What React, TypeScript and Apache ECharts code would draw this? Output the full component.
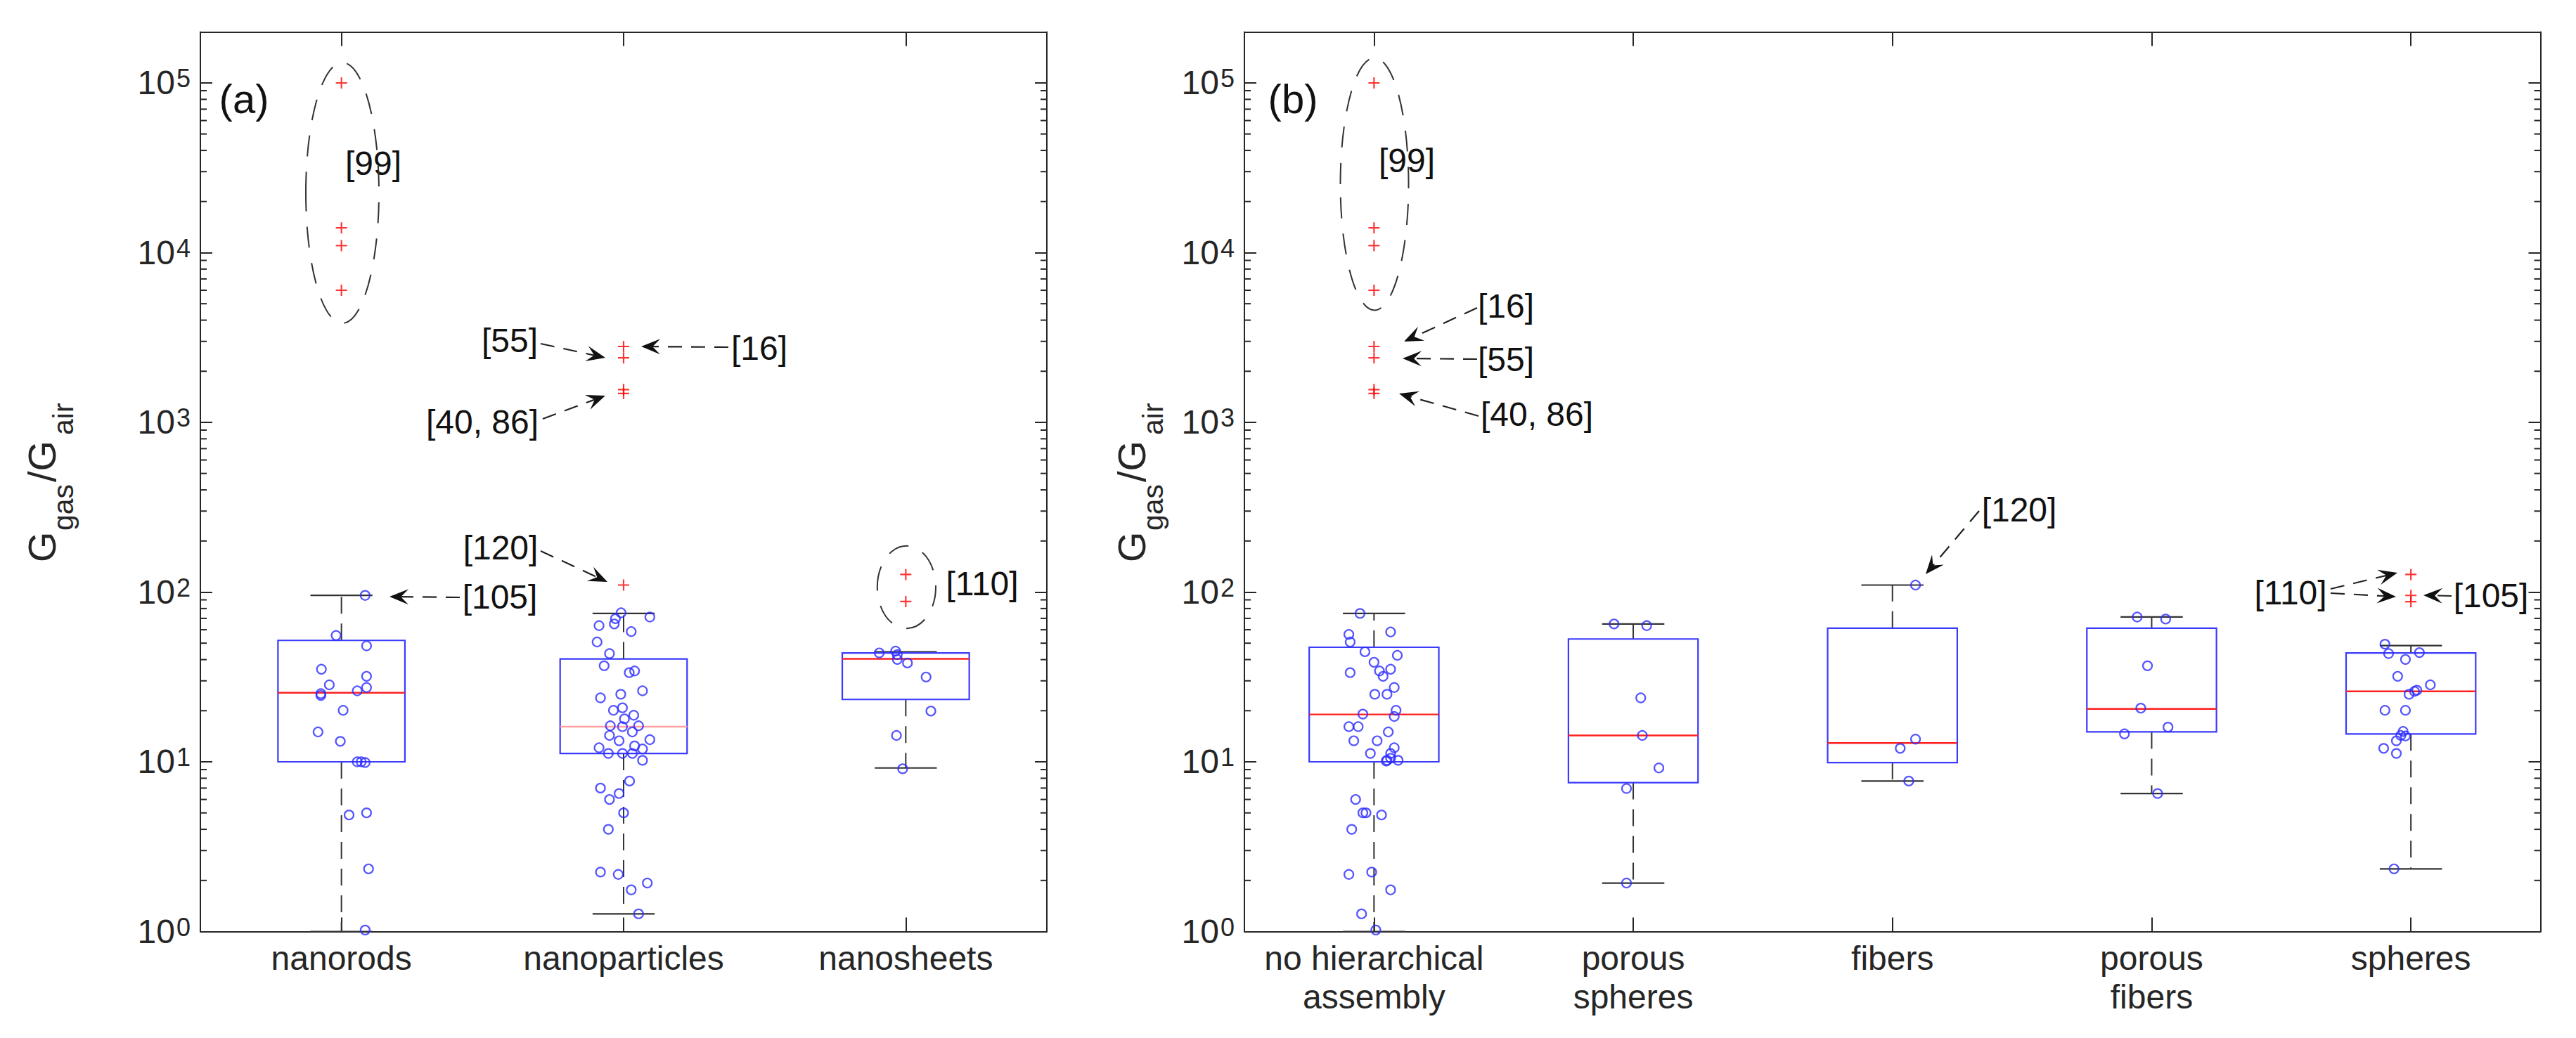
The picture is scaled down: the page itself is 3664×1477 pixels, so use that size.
import React, { useEffect, useRef } from 'react';
import * as echarts from 'echarts';

const FONT = "'Liberation Sans', Arial, Helvetica, sans-serif";

// ---------- categories ----------
const catsA = ['nanorods', 'nanoparticles', 'nanosheets'];
const catsB = ['no hierarchical\nassembly', 'porous\nspheres', 'fibers', 'porous\nfibers', 'spheres'];

// ---------- box statistics: [lower whisker, q1, median, q3, upper whisker] ----------
const boxA = [
  [1.0, 10, 25.5, 51.9, 95.6],
  [1.27, 11.2, 16.1, 40.4, 74.8],
  [9.2, 23.3, 40.4, 43.8, 44.4],
];
const boxB = [
  [1.0, 10, 19.0, 47.3, 74.8],
  [1.93, 7.54, 14.3, 52.9, 64.9],
  [7.7, 9.9, 12.9, 61.3, 110],
  [6.5, 15.0, 20.5, 61.3, 71.3],
  [2.34, 14.6, 26.0, 43.8, 48.4],
];

// ---------- jittered observations: [jitter (category units), value] ----------
const ptsNanorods = [
  [0.084, 95.6], [-0.019, 55.5], [0.089, 48.2], [-0.071, 35.1], [0.089, 31.9], [-0.043, 28.4],
  [0.089, 27.4], [0.056, 26.2], [-0.073, 25.2], [-0.073, 24.6], [0.006, 20.1], [-0.083, 15.0],
  [-0.004, 13.2], [0.056, 10.0], [0.07, 10.0], [0.084, 9.9], [0.027, 4.86], [0.089, 5.0],
  [0.096, 2.34], [0.084, 1.02],
];
const ptsNanoparticles = [
  [-0.009, 75.5], [-0.029, 69.7], [-0.033, 64.9], [-0.087, 63.4], [0.093, 71.3], [0.027, 58.5],
  [-0.094, 50.8], [-0.05, 43.4], [-0.069, 36.8], [0.02, 33.5], [0.039, 34.3], [0.067, 26.2],
  [-0.082, 23.8], [-0.01, 25.0], [-0.004, 20.8], [-0.036, 20.1], [0.036, 18.8], [0.003, 17.9],
  [-0.047, 16.3], [-0.004, 16.1], [0.053, 16.3], [0.031, 15.0], [-0.05, 14.3], [-0.016, 13.3],
  [0.093, 13.5], [0.039, 12.4], [-0.087, 12.1], [0.067, 11.9], [-0.054, 11.2], [-0.004, 11.2],
  [0.031, 11.2], [0.067, 10.2], [0.021, 7.7], [-0.082, 7.0], [-0.05, 6.0], [-0.016, 6.5],
  [0.0, 5.0], [-0.054, 4.0], [-0.082, 2.24], [-0.019, 2.17], [0.027, 1.76], [0.084, 1.93],
  [0.053, 1.27],
];
const ptsNanosheets = [
  [-0.094, 43.8], [-0.036, 44.9], [-0.03, 42.8], [-0.03, 40.1], [0.006, 38.2], [0.072, 31.6],
  [0.089, 19.9], [-0.033, 14.3], [-0.011, 9.1],
];
const ptsNoHierarchy = [
  [-0.054, 74.8], [-0.097, 56.3], [0.064, 58.2], [-0.092, 50.8], [-0.035, 44.5], [0.09, 42.4],
  [0.0, 38.6], [-0.092, 33.5], [0.021, 34.3], [0.064, 35.1], [0.035, 31.9], [0.078, 27.4],
  [0.003, 25.0], [0.05, 25.0], [0.085, 20.1], [-0.043, 19.1], [0.078, 18.5], [-0.097, 16.1],
  [-0.061, 16.1], [0.055, 15.0], [-0.078, 13.3], [0.012, 13.3], [0.078, 12.1], [-0.014, 11.2],
  [0.064, 11.2], [0.05, 10.2], [0.064, 10.5], [0.093, 10.2], [0.047, 10.1], [-0.071, 6.0],
  [-0.043, 5.0], [-0.031, 5.0], [0.029, 4.86], [-0.086, 4.0], [-0.097, 2.17], [-0.009, 2.24],
  [0.064, 1.76], [-0.048, 1.27], [0.007, 1.02],
];
const ptsPorousSpheres = [
  [-0.074, 64.9], [0.052, 63.4], [0.029, 23.8], [0.035, 14.3], [0.099, 9.2], [-0.026, 6.96], [-0.026, 1.93],
];
const ptsFibers = [[0.089, 110], [0.089, 13.6], [0.03, 12.0], [0.063, 7.7]];
const ptsPorousFibers = [
  [-0.056, 71.3], [0.054, 69.3], [-0.016, 36.8], [-0.042, 20.7], [0.063, 16.0], [-0.105, 14.6], [0.023, 6.5],
];
const ptsSpheres = [
  [-0.1, 49.3], [-0.086, 43.4], [-0.021, 40.1], [0.033, 44.0], [-0.051, 31.9], [0.075, 28.4],
  [0.023, 26.4], [0.014, 26.0], [-0.007, 25.0], [-0.1, 20.1], [-0.021, 20.1], [-0.03, 15.1],
  [-0.039, 14.3], [-0.021, 14.2], [-0.056, 13.3], [-0.105, 12.0], [-0.056, 11.2], [-0.065, 2.34],
];

// ---------- outliers: [category (1-based), value] ----------
const outliersA = [
  [1, 100000], [1, 14000], [1, 11000], [1, 6000],
  [2, 2800], [2, 2400], [2, 1560], [2, 1480], [2, 110],
  [3, 127], [3, 88],
];
const outliersB = [
  [1, 100000], [1, 14000], [1, 11000], [1, 6000], [1, 2800], [1, 2400], [1, 1560], [1, 1480],
  [5, 127], [5, 95.6], [5, 87.8],
];

// ---------- axis ----------
const Y_MIN = 1;
const Y_MAX = 199526; // 10^5.3
const minorTickValues: number[] = [];
for (let k = 0; k <= 4; k++) for (let m = 2; m <= 9; m++) minorTickValues.push(m * Math.pow(10, k));

// ---------- annotation layout (pixels) ----------
const labelsA = [
  { text: '(a)', x: 347, y: 140, size: 58 },
  { text: '[99]', x: 531, y: 232 },
  { text: '[55]', x: 725, y: 484 },
  { text: '[40, 86]', x: 686, y: 600 },
  { text: '[16]', x: 1080, y: 495 },
  { text: '[120]', x: 712, y: 779 },
  { text: '[105]', x: 711, y: 849 },
  { text: '[110]', x: 1397, y: 830 },
];
const arrowsA = [
  [769, 489, 861, 509],
  [772, 596, 861, 563],
  [1036, 494, 912, 493],
  [769, 784, 864, 828],
  [654, 850, 554, 849],
];
const ellipsesA = [
  [487, 274.5, 52, 185.5],
  [1289.4, 835.5, 41.6, 58.7],
];
const labelsB = [
  { text: '(b)', x: 1839, y: 140, size: 58 },
  { text: '[99]', x: 2001, y: 228 },
  { text: '[16]', x: 2142, y: 435 },
  { text: '[55]', x: 2142, y: 511 },
  { text: '[40, 86]', x: 2186, y: 589 },
  { text: '[120]', x: 2872, y: 725 },
  { text: '[110]', x: 3258, y: 843 },
  { text: '[105]', x: 3543, y: 847 },
];
const arrowsB = [
  [2101, 438, 1997, 486],
  [2101, 511, 1995, 510],
  [2103, 592, 1990, 560],
  [2815, 727, 2739, 817],
  [3315, 838, 3410, 815],
  [3315, 844, 3408, 849],
  [3487, 848, 3447, 847],
];
const ellipsesB = [[1955, 262, 48.5, 179.5]];

const AXIS_COLOR = '#262626';
const BOX_COLOR = '#3a3aff';
const MARK_COLOR = '#2b2bff';
const WHISKER_COLOR = '#333333';
const medianColorsA = ['#ff2020', '#ffa0a0', '#ff2020'];
const medianColorsB = ['#ff2020', '#ff2020', '#ff2020', '#ff2020', '#ff2020'];

function arrowEls(a: number[]) {
  const [x1, y1, x2, y2] = a;
  const dx = x2 - x1, dy = y2 - y1;
  const len = Math.hypot(dx, dy);
  const ux = dx / len, uy = dy / len;
  const L = 27, W = 11;
  const bx = x2 - ux * L, by = y2 - uy * L;
  const nx = -uy, ny = ux;
  const notch = [x2 - ux * L * 0.6, y2 - uy * L * 0.6];
  return [
    {
      type: 'line',
      shape: { x1, y1, x2: notch[0], y2: notch[1] },
      style: { stroke: '#222', lineWidth: 2.2, lineDash: [20, 13] },
      silent: true,
    },
    {
      type: 'polygon',
      shape: { points: [[x2, y2], [bx + nx * W, by + ny * W], notch, [bx - nx * W, by - ny * W]] },
      style: { fill: '#111' },
      silent: true,
    },
  ];
}

function labelEls(ls: any[]) {
  return ls.map((l) => ({
    type: 'text',
    x: l.x,
    y: l.y,
    silent: true,
    style: {
      text: l.text,
      fontSize: l.size || 48,
      fontFamily: FONT,
      fill: '#111',
      align: 'center',
      verticalAlign: 'middle',
    },
  }));
}

function ellipseEls(es: number[][]) {
  return es.map(([cx, cy, rx, ry]) => ({
    type: 'ellipse',
    shape: { cx, cy, rx, ry },
    silent: true,
    style: { fill: 'none', stroke: '#333', lineWidth: 2, lineDash: [30, 22] },
  }));
}

function yTitle(x: number, y: number) {
  return {
    type: 'group',
    x,
    y,
    rotation: Math.PI / 2,
    silent: true,
    children: [
      { type: 'text', x: 0, y: 0, style: { text: 'G', fontSize: 56, fontFamily: FONT, fill: AXIS_COLOR, align: 'left', verticalAlign: 'middle' } },
      { type: 'text', x: 45, y: 31, style: { text: 'gas', fontSize: 41, fontFamily: FONT, fill: AXIS_COLOR, align: 'left', verticalAlign: 'middle' } },
      { type: 'text', x: 114, y: 0, style: { text: '/G', fontSize: 56, fontFamily: FONT, fill: AXIS_COLOR, align: 'left', verticalAlign: 'middle' } },
      { type: 'text', x: 181, y: 31, style: { text: 'air', fontSize: 41, fontFamily: FONT, fill: AXIS_COLOR, align: 'left', verticalAlign: 'middle' } },
    ],
  };
}

function boxSeries(xi: number, yi: number, stats: number[][], bw: number, cw: number, medCols: string[]) {
  return {
    type: 'custom',
    xAxisIndex: xi,
    yAxisIndex: yi,
    silent: true,
    z: 2,
    data: stats.map((s, i) => [i + 1, ...s]),
    renderItem: (params: any, api: any) => {
      const x = api.value(0);
      const lo = api.value(1), q1 = api.value(2), med = api.value(3), q3 = api.value(4), hi = api.value(5);
      const c = (xx: number, v: number) => api.coord([xx, v]);
      const cx = c(x, q1)[0];
      const yq1 = c(x, q1)[1], yq3 = c(x, q3)[1], ylo = c(x, lo)[1], yhi = c(x, hi)[1], ym = c(x, med)[1];
      const bl = c(x - bw / 2, q1)[0], br = c(x + bw / 2, q1)[0];
      const cl = c(x - cw / 2, q1)[0], cr = c(x + cw / 2, q1)[0];
      const dash = { stroke: WHISKER_COLOR, lineWidth: 2, lineDash: [24, 14] };
      const solid = { stroke: WHISKER_COLOR, lineWidth: 2.2 };
      return {
        type: 'group',
        children: [
          { type: 'line', shape: { x1: cx, y1: yq3, x2: cx, y2: yhi }, style: dash },
          { type: 'line', shape: { x1: cx, y1: yq1, x2: cx, y2: ylo }, style: dash },
          { type: 'line', shape: { x1: cl, y1: yhi, x2: cr, y2: yhi }, style: solid },
          { type: 'line', shape: { x1: cl, y1: ylo, x2: cr, y2: ylo }, style: solid },
          { type: 'rect', shape: { x: bl, y: yq3, width: br - bl, height: yq1 - yq3 }, style: { fill: 'none', stroke: BOX_COLOR, lineWidth: 2.2 } },
          { type: 'line', shape: { x1: bl, y1: ym, x2: br, y2: ym }, style: { stroke: medCols[params.dataIndex], lineWidth: 2.4 } },
        ],
      };
    },
  };
}

function minorTickSeries(xi: number, yi: number) {
  return {
    type: 'custom',
    xAxisIndex: xi,
    yAxisIndex: yi,
    silent: true,
    z: 1,
    data: minorTickValues.map((v) => [1, v]),
    renderItem: (params: any, api: any) => {
      const cs = params.coordSys;
      const y = api.coord([1, api.value(1)])[1];
      const st = { stroke: AXIS_COLOR, lineWidth: 2 };
      return {
        type: 'group',
        children: [
          { type: 'line', shape: { x1: cs.x, y1: y, x2: cs.x + 9, y2: y }, style: st },
          { type: 'line', shape: { x1: cs.x + cs.width - 9, y1: y, x2: cs.x + cs.width, y2: y }, style: st },
        ],
      };
    },
  };
}

function pointsData(groups: number[][][]) {
  const out: number[][] = [];
  groups.forEach((g, i) => g.forEach(([o, v]) => out.push([i + 1 + o, v])));
  return out;
}

const PLUS = 'path://M0,6.5H15V8.5H0Z M6.5,0H8.5V15H6.5Z';

function scatterSeries(xi: number, yi: number, data: number[][]) {
  return {
    type: 'scatter',
    xAxisIndex: xi,
    yAxisIndex: yi,
    silent: true,
    z: 3,
    symbol: 'circle',
    symbolSize: 13,
    itemStyle: { color: 'rgba(0,0,0,0)', borderColor: MARK_COLOR, borderWidth: 2.2 },
    data,
  };
}

function outlierSeries(xi: number, yi: number, data: number[][]) {
  return {
    type: 'scatter',
    xAxisIndex: xi,
    yAxisIndex: yi,
    silent: true,
    z: 4,
    symbol: PLUS,
    symbolSize: 16,
    itemStyle: { color: '#ff0000' },
    data,
  };
}

const catAxis = (grid: number, cats: string[], pos: 'top' | 'bottom') => ({
  type: 'category',
  gridIndex: grid,
  position: pos,
  data: cats,
  axisLine: { show: true, lineStyle: { color: AXIS_COLOR, width: 2 } },
  axisTick: { show: true, inside: true, alignWithLabel: true, length: 20, lineStyle: { color: AXIS_COLOR, width: 2 } },
  axisLabel: {
    show: pos === 'bottom',
    interval: 0,
    margin: 10,
    fontSize: 48,
    lineHeight: 55,
    fontFamily: FONT,
    color: AXIS_COLOR,
  },
  splitLine: { show: false },
});

const valXAxis = (grid: number, n: number) => ({
  type: 'value',
  gridIndex: grid,
  min: 0.5,
  max: n + 0.5,
  show: false,
});

const logAxis = (grid: number, pos: 'left' | 'right') => ({
  type: 'log',
  logBase: 10,
  gridIndex: grid,
  position: pos,
  min: Y_MIN,
  max: Y_MAX,
  axisLine: { show: true, lineStyle: { color: AXIS_COLOR, width: 2 } },
  axisTick: { show: true, inside: true, length: 17, lineStyle: { color: AXIS_COLOR, width: 2 } },
  splitLine: { show: false },
  axisLabel: {
    show: pos === 'left',
    showMaxLabel: false,
    margin: 14,
    formatter: (v: number) => `{b|10}{e|${Math.round(Math.log10(v))}}`,
    rich: {
      b: { fontSize: 48, lineHeight: 48, padding: [14, 0, 0, 0], verticalAlign: 'bottom', fontFamily: FONT, color: AXIS_COLOR },
      e: { fontSize: 36, lineHeight: 36, verticalAlign: 'top', padding: [0, 0, 0, 2], fontFamily: FONT, color: AXIS_COLOR },
    },
  },
});

export default function App() {
  const ref = useRef<HTMLDivElement>(null);
  useEffect(() => {
    if (!ref.current) return;
    document.body.style.margin = '0';
    const chart = echarts.init(ref.current, null, { renderer: 'svg' });
    const option: any = {
      animation: false,
      backgroundColor: '#ffffff',
      grid: [
        { left: 285, top: 45.5, width: 1204, height: 1280 },
        { left: 1770, top: 45.5, width: 1843.5, height: 1280 },
      ],
      xAxis: [
        catAxis(0, catsA, 'bottom'),
        catAxis(0, catsA, 'top'),
        valXAxis(0, catsA.length),
        catAxis(1, catsB, 'bottom'),
        catAxis(1, catsB, 'top'),
        valXAxis(1, catsB.length),
      ],
      yAxis: [logAxis(0, 'left'), logAxis(0, 'right'), logAxis(1, 'left'), logAxis(1, 'right')],
      series: [
        minorTickSeries(2, 0),
        minorTickSeries(5, 2),
        boxSeries(2, 0, boxA, 0.45, 0.22, medianColorsA),
        boxSeries(5, 2, boxB, 0.5, 0.24, medianColorsB),
        scatterSeries(2, 0, pointsData([ptsNanorods, ptsNanoparticles, ptsNanosheets])),
        scatterSeries(5, 2, pointsData([ptsNoHierarchy, ptsPorousSpheres, ptsFibers, ptsPorousFibers, ptsSpheres])),
        outlierSeries(2, 0, outliersA),
        outlierSeries(5, 2, outliersB),
      ],
      graphic: {
        elements: [
          yTitle(59, 800),
          yTitle(1609, 800),
          ...labelEls(labelsA),
          ...labelEls(labelsB),
          ...ellipseEls(ellipsesA),
          ...ellipseEls(ellipsesB),
          ...arrowsA.flatMap(arrowEls),
          ...arrowsB.flatMap(arrowEls),
        ],
      },
    };
    chart.setOption(option);
    return () => chart.dispose();
  }, []);
  return (
    <div
      ref={ref}
      style={{ position: 'fixed', left: 0, top: 0, width: 3664, height: 1477, background: '#fff' }}
    />
  );
}
